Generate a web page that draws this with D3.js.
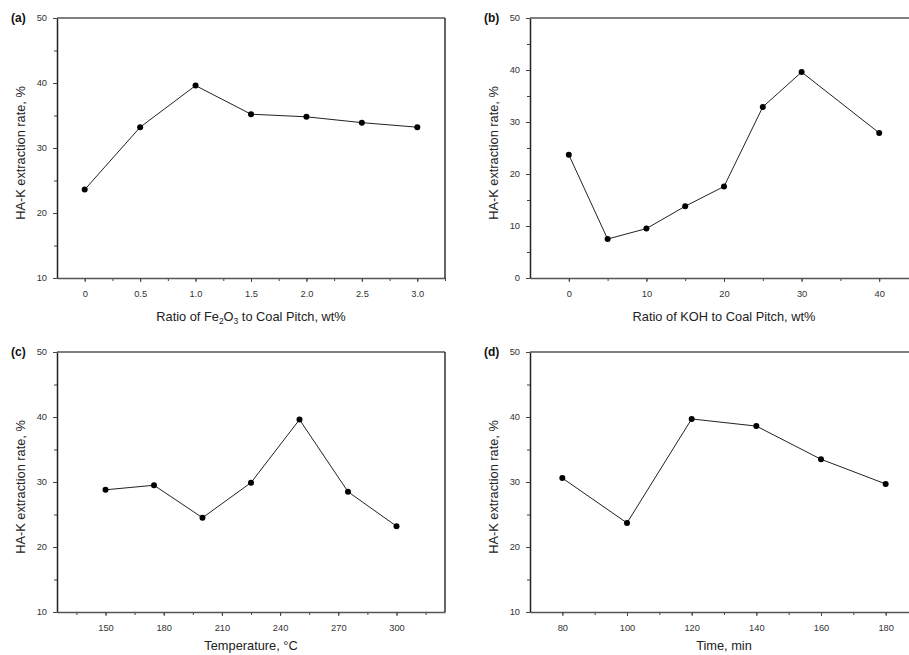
<!DOCTYPE html>
<html>
<head>
<meta charset="utf-8">
<script src="https://cdn.jsdelivr.net/npm/d3@7"></script>
<style>
  body { margin: 0; background: #fff; }
  svg { display: block; font-family: "Liberation Sans", Arial, sans-serif; }
  .tick text { fill: #333; font-size: 9.3px; }
  .axisText { fill: #222; font-size: 12.8px; }
</style>
</head>
<body>
<div class="chart"></div>
<script>
var svgWidth = 909;
var svgHeight = 655;

// panel (a): Fe2O3 ratio
var fe2o3Ratio = [0, 0.5, 1.0, 1.5, 2.0, 2.5, 3.0];
var fe2o3Rate = [23.6, 33.2, 39.6, 35.2, 34.8, 33.9, 33.2];
var fe2o3Ticks = [0, 0.5, 1.0, 1.5, 2.0, 2.5, 3.0];

// panel (b): KOH ratio
var kohRatio = [0, 5, 10, 15, 20, 25, 30, 40];
var kohRate = [23.7, 7.5, 9.5, 13.8, 17.6, 32.9, 39.6, 27.9];
var kohTicks = [0, 10, 20, 30, 40];

// panel (c): temperature
var tempC = [150, 175, 200, 225, 250, 275, 300];
var tempRate = [28.8, 29.5, 24.5, 29.9, 39.6, 28.5, 23.2];
var tempTicks = [150, 180, 210, 240, 270, 300];

// panel (d): time
var timeMin = [80, 100, 120, 140, 160, 180];
var timeRate = [30.6, 23.7, 39.7, 38.6, 33.5, 29.7];
var timeTicks = [80, 100, 120, 140, 160, 180];

var panels = [
  { label: "(a)", left: 57, top: 18, xs: fe2o3Ratio, ys: fe2o3Rate, xDomain: [-0.25, 3.25], yDomain: [10, 50],
    xTicks: fe2o3Ticks, xMinor: 0.25, xFormat: d => d === 0 ? "0" : d3.format(".1f")(d), title: "fe2o3", rightBorder: true, titleDy: 43 },
  { label: "(b)", left: 530, top: 18, xs: kohRatio, ys: kohRate, xDomain: [-5, 45], yDomain: [0, 50],
    xTicks: kohTicks, xMinor: 5, xFormat: d3.format("d"), title: "Ratio of KOH to Coal Pitch, wt%", rightBorder: false, titleDy: 43 },
  { label: "(c)", left: 57, top: 352, xs: tempC, ys: tempRate, xDomain: [125, 325], yDomain: [10, 50],
    xTicks: tempTicks, xMinor: 15, xFormat: d3.format("d"), title: "Temperature, \u00B0C", rightBorder: true, titleDy: 38 },
  { label: "(d)", left: 530, top: 352, xs: timeMin, ys: timeRate, xDomain: [70, 190], yDomain: [10, 50],
    xTicks: timeTicks, xMinor: 10, xFormat: d3.format("d"), title: "Time, min", rightBorder: false, titleDy: 38 }
];

var width = 388;
var height = 260;

var svg = d3.select(".chart")
  .append("svg")
  .attr("width", svgWidth)
  .attr("height", svgHeight);

panels.forEach(function(p) {
  var g = svg.append("g")
    .attr("transform", `translate(${p.left}, ${p.top})`);

  var x = d3.scaleLinear().domain(p.xDomain).range([0, width]);
  var y = d3.scaleLinear().domain(p.yDomain).range([height, 0]);

  // minor ticks
  var xMinorVals = d3.range(Math.ceil(p.xDomain[0] / p.xMinor) * p.xMinor, p.xDomain[1] + 1e-9, p.xMinor)
    .filter(v => v > p.xDomain[0] + 1e-9);
  var yMinorVals = d3.range(p.yDomain[0] + 5, p.yDomain[1], 10);

  g.append("g")
    .attr("transform", `translate(0, ${height})`)
    .call(d3.axisBottom(x).tickValues(xMinorVals).tickSize(3).tickFormat(""))
    .call(s => s.select(".domain").remove())
    .selectAll("line").attr("stroke", "#444");

  g.append("g")
    .call(d3.axisLeft(y).tickValues(yMinorVals).tickSize(3).tickFormat(""))
    .call(s => s.select(".domain").remove())
    .selectAll("line").attr("stroke", "#444");

  // major ticks
  var bottomAxis = g.append("g")
    .attr("transform", `translate(0, ${height})`)
    .call(d3.axisBottom(x).tickValues(p.xTicks).tickFormat(p.xFormat).tickSize(4).tickPadding(8).tickSizeOuter(0));
  bottomAxis.select(".domain").attr("stroke", "#555").attr("stroke-width", 1.5);
  bottomAxis.selectAll("line").attr("stroke", "#444");

  var leftAxis = g.append("g")
    .call(d3.axisLeft(y).ticks(5).tickFormat(d3.format("d")).tickSize(4).tickPadding(6).tickSizeOuter(0));
  leftAxis.select(".domain").attr("stroke", "#222").attr("stroke-width", 1.5);
  leftAxis.selectAll("line").attr("stroke", "#444");

  // top and right frame
  g.append("line")
    .attr("x1", 0).attr("x2", width)
    .attr("y1", 0).attr("y2", 0)
    .attr("stroke", "#555").attr("stroke-width", 1.5);
  if (p.rightBorder) {
    g.append("line")
      .attr("x1", width).attr("x2", width)
      .attr("y1", 0).attr("y2", height)
      .attr("stroke", "#111").attr("stroke-width", 1.3);
  }

  // data line and points
  var pts = p.xs.map((v, i) => ({ x: v, y: p.ys[i] }));
  g.append("path")
    .datum(pts)
    .attr("fill", "none")
    .attr("stroke", "#222")
    .attr("stroke-width", 1)
    .attr("d", d3.line().x(d => x(d.x)).y(d => y(d.y)));

  g.selectAll("circle")
    .data(pts)
    .enter()
    .append("circle")
    .attr("cx", d => x(d.x))
    .attr("cy", d => y(d.y))
    .attr("r", 3)
    .attr("fill", "#000");

  // panel label
  g.append("text")
    .attr("x", -46)
    .attr("y", 4)
    .attr("font-weight", "bold")
    .attr("font-size", "12px")
    .attr("fill", "#111")
    .text(p.label);

  // y axis label
  g.append("text")
    .attr("transform", "rotate(-90)")
    .attr("x", -height / 2 - 5)
    .attr("y", -32)
    .attr("text-anchor", "middle")
    .attr("class", "axisText")
    .text("HA-K extraction rate, %");

  // x axis label
  var xt = g.append("text")
    .attr("x", width / 2)
    .attr("y", height + p.titleDy)
    .attr("text-anchor", "middle")
    .attr("class", "axisText");
  if (p.title === "fe2o3") {
    xt.append("tspan").text("Ratio of Fe");
    xt.append("tspan").attr("font-size", "8.5px").attr("dy", 3).text("2");
    xt.append("tspan").attr("dy", -3).text("O");
    xt.append("tspan").attr("font-size", "8.5px").attr("dy", 3).text("3");
    xt.append("tspan").attr("dy", -3).text(" to Coal Pitch, wt%");
  } else {
    xt.text(p.title);
  }
});
</script>
</body>
</html>
